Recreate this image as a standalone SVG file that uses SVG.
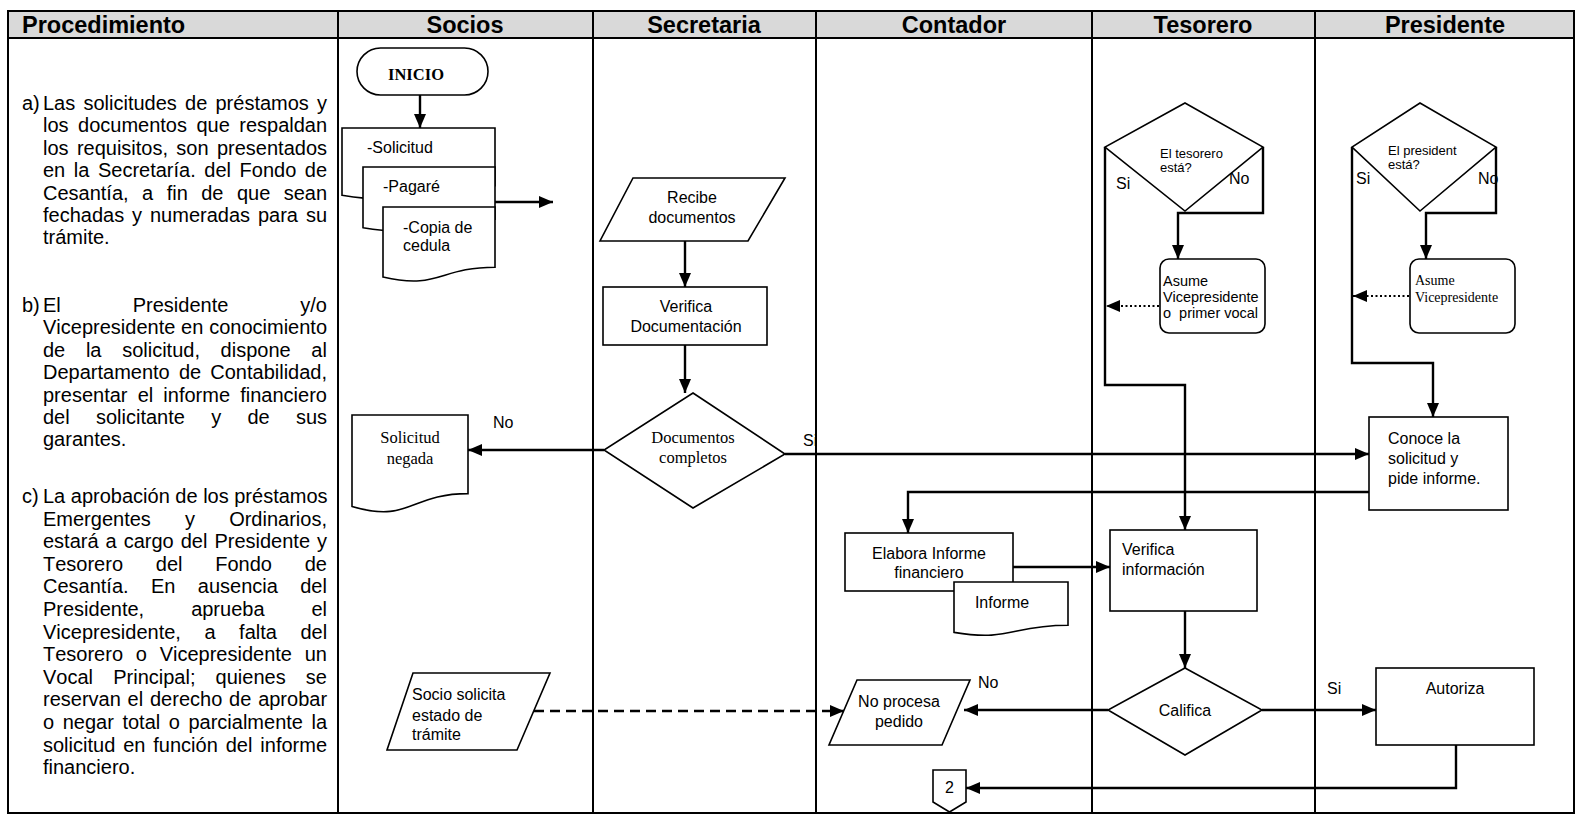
<svg xmlns="http://www.w3.org/2000/svg" width="1577" height="816" viewBox="0 0 1577 816">
<style>
  .grid { stroke: #000; stroke-width: 2; fill: none; }
  .hdr { font-family: "Liberation Sans", Arial, sans-serif; font-weight: bold; font-size: 23.5px; fill: #000; }
  .proc { font-family: "Liberation Sans", Arial, sans-serif; font-size: 20px; fill: #000; font-kerning: none; }
  .box { fill: #fff; stroke: #000; stroke-width: 1.6; }
  .t { font-family: "Liberation Sans", Arial, sans-serif; font-size: 16px; fill: #000; }
  .ts { font-family: "Liberation Sans", Arial, sans-serif; font-size: 13px; fill: #000; }
  .tm { font-family: "Liberation Sans", Arial, sans-serif; font-size: 14.5px; fill: #000; }
  .tr { font-family: "Liberation Serif", "Times New Roman", serif; font-size: 16.5px; fill: #000; }
  .trs { font-family: "Liberation Serif", "Times New Roman", serif; font-size: 14px; fill: #000; }
  .mid { text-anchor: middle; }
  .ln { fill: none; stroke: #000; stroke-width: 2.4; }
  .arr { marker-end: url(#ah); }
  .dash { stroke-dasharray: 10 6; }
  .dot { stroke-dasharray: 2 2.5; stroke-width: 2; }
</style>
<defs>
  <marker id="ah" viewBox="0 0 14 12" refX="14" refY="6" markerWidth="14" markerHeight="12" markerUnits="userSpaceOnUse" orient="auto">
    <path d="M0,0 L14,6 L0,12 Z" fill="#000"/>
  </marker>
</defs>

<!-- swimlane table -->
<g id="table">
  <rect x="8" y="11" width="1566" height="27" fill="#d9d9d9"/>
  <rect class="grid" x="8" y="11" width="1566" height="802"/>
  <line class="grid" x1="8" y1="38" x2="1574" y2="38" stroke-width="2.5"/>
  <line class="grid" x1="338" y1="11" x2="338" y2="813"/>
  <line class="grid" x1="593" y1="11" x2="593" y2="813"/>
  <line class="grid" x1="816" y1="11" x2="816" y2="813"/>
  <line class="grid" x1="1092" y1="11" x2="1092" y2="813"/>
  <line class="grid" x1="1315" y1="11" x2="1315" y2="813"/>
  <text class="hdr" x="22" y="32.5">Procedimiento</text>
  <text class="hdr mid" x="465" y="32.5">Socios</text>
  <text class="hdr mid" x="704" y="32.5">Secretaria</text>
  <text class="hdr mid" x="954" y="32.5">Contador</text>
  <text class="hdr mid" x="1203" y="32.5">Tesorero</text>
  <text class="hdr mid" x="1445" y="32.5">Presidente</text>
</g>

<!-- procedure text -->
<g id="procedimiento" class="proc">
  <text x="22" y="110">a)</text>
  <text x="43" y="110" word-spacing="2.65">Las solicitudes de préstamos y</text>
  <text x="43" y="132.4" word-spacing="3.9">los documentos que respaldan</text>
  <text x="43" y="154.8" word-spacing="2.77">los requisitos, son presentados</text>
  <text x="43" y="177.2" word-spacing="3">en la Secretaría. del Fondo de</text>
  <text x="43" y="199.6" word-spacing="7.9">Cesantía, a fin de que sean</text>
  <text x="43" y="222" word-spacing="2.35">fechadas y numeradas para su</text>
  <text x="43" y="244.4">trámite.</text>

  <text x="22" y="312">b)</text>
  <text x="43" y="312" word-spacing="66.4">El Presidente y/o</text>
  <text x="43" y="334.4" word-spacing="0.25">Vicepresidente en conocimiento</text>
  <text x="43" y="356.8" word-spacing="15.1">de la solicitud, dispone al</text>
  <text x="43" y="379.2" word-spacing="3.6">Departamento de Contabilidad,</text>
  <text x="43" y="401.6" word-spacing="4.6">presentar el informe financiero</text>
  <text x="43" y="424" word-spacing="20.7">del solicitante y de sus</text>
  <text x="43" y="446.4">garantes.</text>

  <text x="22" y="503">c)</text>
  <text x="43" y="503">La aprobación de los préstamos</text>
  <text x="43" y="525.6" word-spacing="28.6">Emergentes y Ordinarios,</text>
  <text x="43" y="548.2" word-spacing="1.44">estará a cargo del Presidente y</text>
  <text x="43" y="570.8" word-spacing="27.2">Tesorero del Fondo de</text>
  <text x="43" y="593.4" word-spacing="16.8">Cesantía. En ausencia del</text>
  <text x="43" y="616" word-spacing="41.4">Presidente, aprueba el</text>
  <text x="43" y="638.6" word-spacing="18">Vicepresidente, a falta del</text>
  <text x="43" y="661.2" word-spacing="7.2">Tesorero o Vicepresidente un</text>
  <text x="43" y="683.8" word-spacing="14.6">Vocal Principal; quienes se</text>
  <text x="43" y="706.4" word-spacing="1.25">reservan el derecho de aprobar</text>
  <text x="43" y="729" word-spacing="3">o negar total o parcialmente la</text>
  <text x="43" y="751.6" word-spacing="2.35">solicitud en función del informe</text>
  <text x="43" y="774.2">financiero.</text>
</g>

<!-- connectors -->
<g id="connectors">
  <path class="ln arr" d="M420,95 V128"/>
  <path class="ln arr" d="M495,202 H553"/>
  <path class="ln arr" d="M685,241 V287"/>
  <path class="ln arr" d="M685,345 V393"/>
  <path class="ln arr" d="M604,450 H468"/>
  <path class="ln arr" d="M785,454 H1369"/>
  <path class="ln arr" d="M1369,492 H908 V533"/>
  <path class="ln arr" d="M1013,567 H1110"/>
  <path class="ln arr" d="M1263,147 V213 H1178 V259"/>
  <path class="ln arr" d="M1105,147 V385 H1185 V530"/>
  <path class="ln arr dot" d="M1159,306 H1106"/>
  <path class="ln arr" d="M1496,147 V213 H1426 V259"/>
  <path class="ln arr" d="M1352,147 V363 H1433 V417"/>
  <path class="ln arr dot" d="M1409,296 H1353"/>
  <path class="ln arr" d="M1185,611 V668"/>
  <path class="ln arr" d="M1108,710 H964"/>
  <path class="ln arr" d="M1262,710 H1376"/>
  <path class="ln arr" d="M1456,745 V788 H966"/>
  <path class="ln arr dash" d="M534,711 H844"/>
  <text class="t" x="493" y="428">No</text>
  <text class="t" x="803" y="446">Si</text>
  <text class="t" x="1116" y="189">Si</text>
  <text class="t" x="1229" y="184">No</text>
  <text class="t" x="1356" y="184">Si</text>
  <text class="t" x="1478" y="184">No</text>
  <text class="t" x="978" y="688">No</text>
  <text class="t" x="1327" y="694">Si</text>
</g>

<g id="inicio">
  <rect class="box" x="357" y="48" width="131" height="47" rx="23.5"/>
  <text class="tr mid" x="416" y="80" font-weight="bold" font-size="19.5">INICIO</text>
</g>

<g id="documentos-socio">
  <path class="box" d="M342,128 H495 V185.7 C418.5,185.7 418.5,207.7 342,195.2 Z"/>
  <text class="t" x="367" y="153">-Solicitud</text>
  <path class="box" d="M363,167 H495 V219.1 C429,219.1 429,239 363,227.7 Z"/>
  <text class="t" x="383" y="192">-Pagaré</text>
  <path class="box" d="M383,207 H495 V267.2 C439,267.2 439,290 383,277 Z"/>
  <text class="t" x="403" y="233">-Copia de</text>
  <text class="t" x="403" y="251">cedula</text>
</g>

<g id="solicitud-negada">
  <path class="box" d="M352,415 H468 V493.6 C410,493.6 410,523.5 352,506.5 Z"/>
  <text class="tr mid" x="410" y="443">Solicitud</text>
  <text class="tr mid" x="410" y="464">negada</text>
</g>

<g id="socio-solicita">
  <path class="box" d="M413,673 H550 L517,750 H387 Z"/>
  <text class="t" x="412" y="700">Socio solicita</text>
  <text class="t" x="412" y="721">estado de</text>
  <text class="t" x="412" y="740">trámite</text>
</g>

<g id="recibe">
  <path class="box" d="M633,178 H785 L748,241 H600 Z"/>
  <text class="t mid" x="692" y="203">Recibe</text>
  <text class="t mid" x="692" y="223">documentos</text>
</g>

<g id="verifica-doc">
  <rect class="box" x="603" y="287" width="164" height="58"/>
  <text class="t mid" x="686" y="312">Verifica</text>
  <text class="t mid" x="686" y="332">Documentación</text>
</g>

<g id="documentos-completos">
  <path class="box" d="M693,393 L785,454 L693,508 L604,450 Z"/>
  <text class="tr mid" x="693" y="443">Documentos</text>
  <text class="tr mid" x="693" y="463">completos</text>
</g>

<g id="elabora">
  <rect class="box" x="845" y="533" width="168" height="58"/>
  <text class="t mid" x="929" y="559">Elabora Informe</text>
  <text class="t mid" x="929" y="578">financiero</text>
</g>

<g id="informe">
  <path class="box" d="M954,582 H1068 V625.3 C1011,625.3 1011,641.8 954,632.4 Z"/>
  <text class="t mid" x="1002" y="608">Informe</text>
</g>

<g id="no-procesa">
  <path class="box" d="M857,680 H970 L942,745 H829 Z"/>
  <text class="t mid" x="899" y="707">No procesa</text>
  <text class="t mid" x="899" y="727">pedido</text>
</g>

<g id="conector-2">
  <path class="box" d="M933,770 H966 V802 L949.5,812 L933,802 Z"/>
  <text class="t mid" x="949.5" y="793">2</text>
</g>

<g id="tesorero-esta">
  <path class="box" d="M1185,103 L1263,147 L1185,211 L1105,147 Z"/>
  <text class="ts" x="1160" y="158">El tesorero</text>
  <text class="ts" x="1160" y="172">está?</text>
</g>

<g id="asume-tesorero">
  <rect class="box" x="1160" y="259" width="105" height="74" rx="9"/>
  <text class="tm" x="1163" y="286">Asume</text>
  <text class="tm" x="1163" y="302">Vicepresidente</text>
  <text class="tm" x="1163" y="318" style="white-space:pre">o  primer vocal</text>
</g>

<g id="verifica-info">
  <rect class="box" x="1110" y="530" width="147" height="81"/>
  <text class="t" x="1122" y="555">Verifica</text>
  <text class="t" x="1122" y="575">información</text>
</g>

<g id="califica">
  <path class="box" d="M1185,668 L1262,710 L1185,755 L1108,710 Z"/>
  <text class="t mid" x="1185" y="716">Califica</text>
</g>

<g id="president-esta">
  <path class="box" d="M1420,103 L1496,147 L1420,211 L1352,147 Z"/>
  <text class="ts" x="1388" y="155">El president</text>
  <text class="ts" x="1388" y="169">está?</text>
</g>

<g id="asume-presidente">
  <rect class="box" x="1410" y="259" width="105" height="74" rx="9"/>
  <text class="trs" x="1415" y="285">Asume</text>
  <text class="trs" x="1415" y="302">Vicepresidente</text>
</g>

<g id="conoce">
  <rect class="box" x="1369" y="417" width="139" height="93"/>
  <text class="t" x="1388" y="444">Conoce la</text>
  <text class="t" x="1388" y="464">solicitud y</text>
  <text class="t" x="1388" y="484">pide informe.</text>
</g>

<g id="autoriza">
  <rect class="box" x="1376" y="668" width="158" height="77"/>
  <text class="t mid" x="1455" y="694">Autoriza</text>
</g>
</svg>
